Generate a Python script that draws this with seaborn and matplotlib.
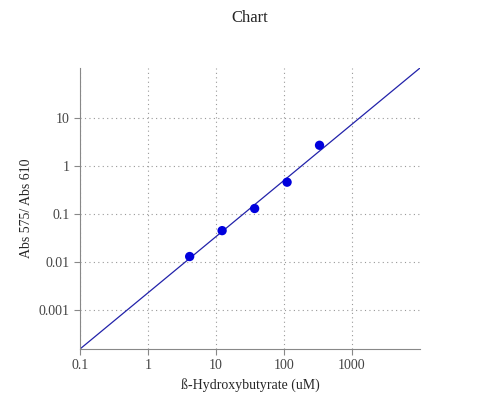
import matplotlib
matplotlib.use("Agg")
import matplotlib.pyplot as plt
import seaborn as sns
import pandas as pd
from matplotlib.ticker import FixedLocator, FixedFormatter, NullLocator

conc = [4.1, 12.3, 37, 111, 333]
ratio = [0.013, 0.045, 0.13, 0.46, 2.7]
fit_x = [0.1, 10000]
fit_y = [0.000154, 110]
xticks = [0.1, 1, 10, 100, 1000]
xlabels = ["0.1", "1", "10", "100", "1000"]
yticks = [0.001, 0.01, 0.1, 1, 10]
ylabels = ["0.001", "0.01", "0.1", "1", "10"]

sns.set_style("white")
plt.rcParams['font.family'] = ['Liberation Serif', 'DejaVu Serif']
fig = plt.figure(figsize=(5, 4), dpi=100)
ax = fig.add_axes([0.16, 0.1275, 0.68, 0.7025])
df = pd.DataFrame({"x": conc, "y": ratio})
sns.lineplot(x=fit_x, y=fit_y, ax=ax, color="#2222aa", lw=0.9)
sns.scatterplot(data=df, x="x", y="y", ax=ax, color="#0000dd", s=45, edgecolor="none", zorder=3)
ax.set_xscale("log"); ax.set_yscale("log")
ax.set_xlim(0.1, 10000); ax.set_ylim(0.000154, 110)
ax.xaxis.set_major_locator(FixedLocator(xticks)); ax.xaxis.set_major_formatter(FixedFormatter(xlabels))
ax.yaxis.set_major_locator(FixedLocator(yticks)); ax.yaxis.set_major_formatter(FixedFormatter(ylabels))
ax.xaxis.set_minor_locator(NullLocator()); ax.yaxis.set_minor_locator(NullLocator())
ax.grid(True, linestyle=(0, (1, 3)), color="#999999", lw=0.8)
for s in ["top", "right"]:
    ax.spines[s].set_visible(False)
for s in ["left", "bottom"]:
    ax.spines[s].set_color("#888888")
ax.tick_params(direction="out", length=4, color="#888888", labelsize=10, labelcolor="#444444", left=True, bottom=True)
ax.set_xlabel("ß-Hydroxybutyrate (uM)", fontsize=10)
ax.set_ylabel("Abs 575/ Abs 610", fontsize=10)
fig.suptitle("Chart", y=0.975, fontsize=12)
fig.savefig("out.png")
